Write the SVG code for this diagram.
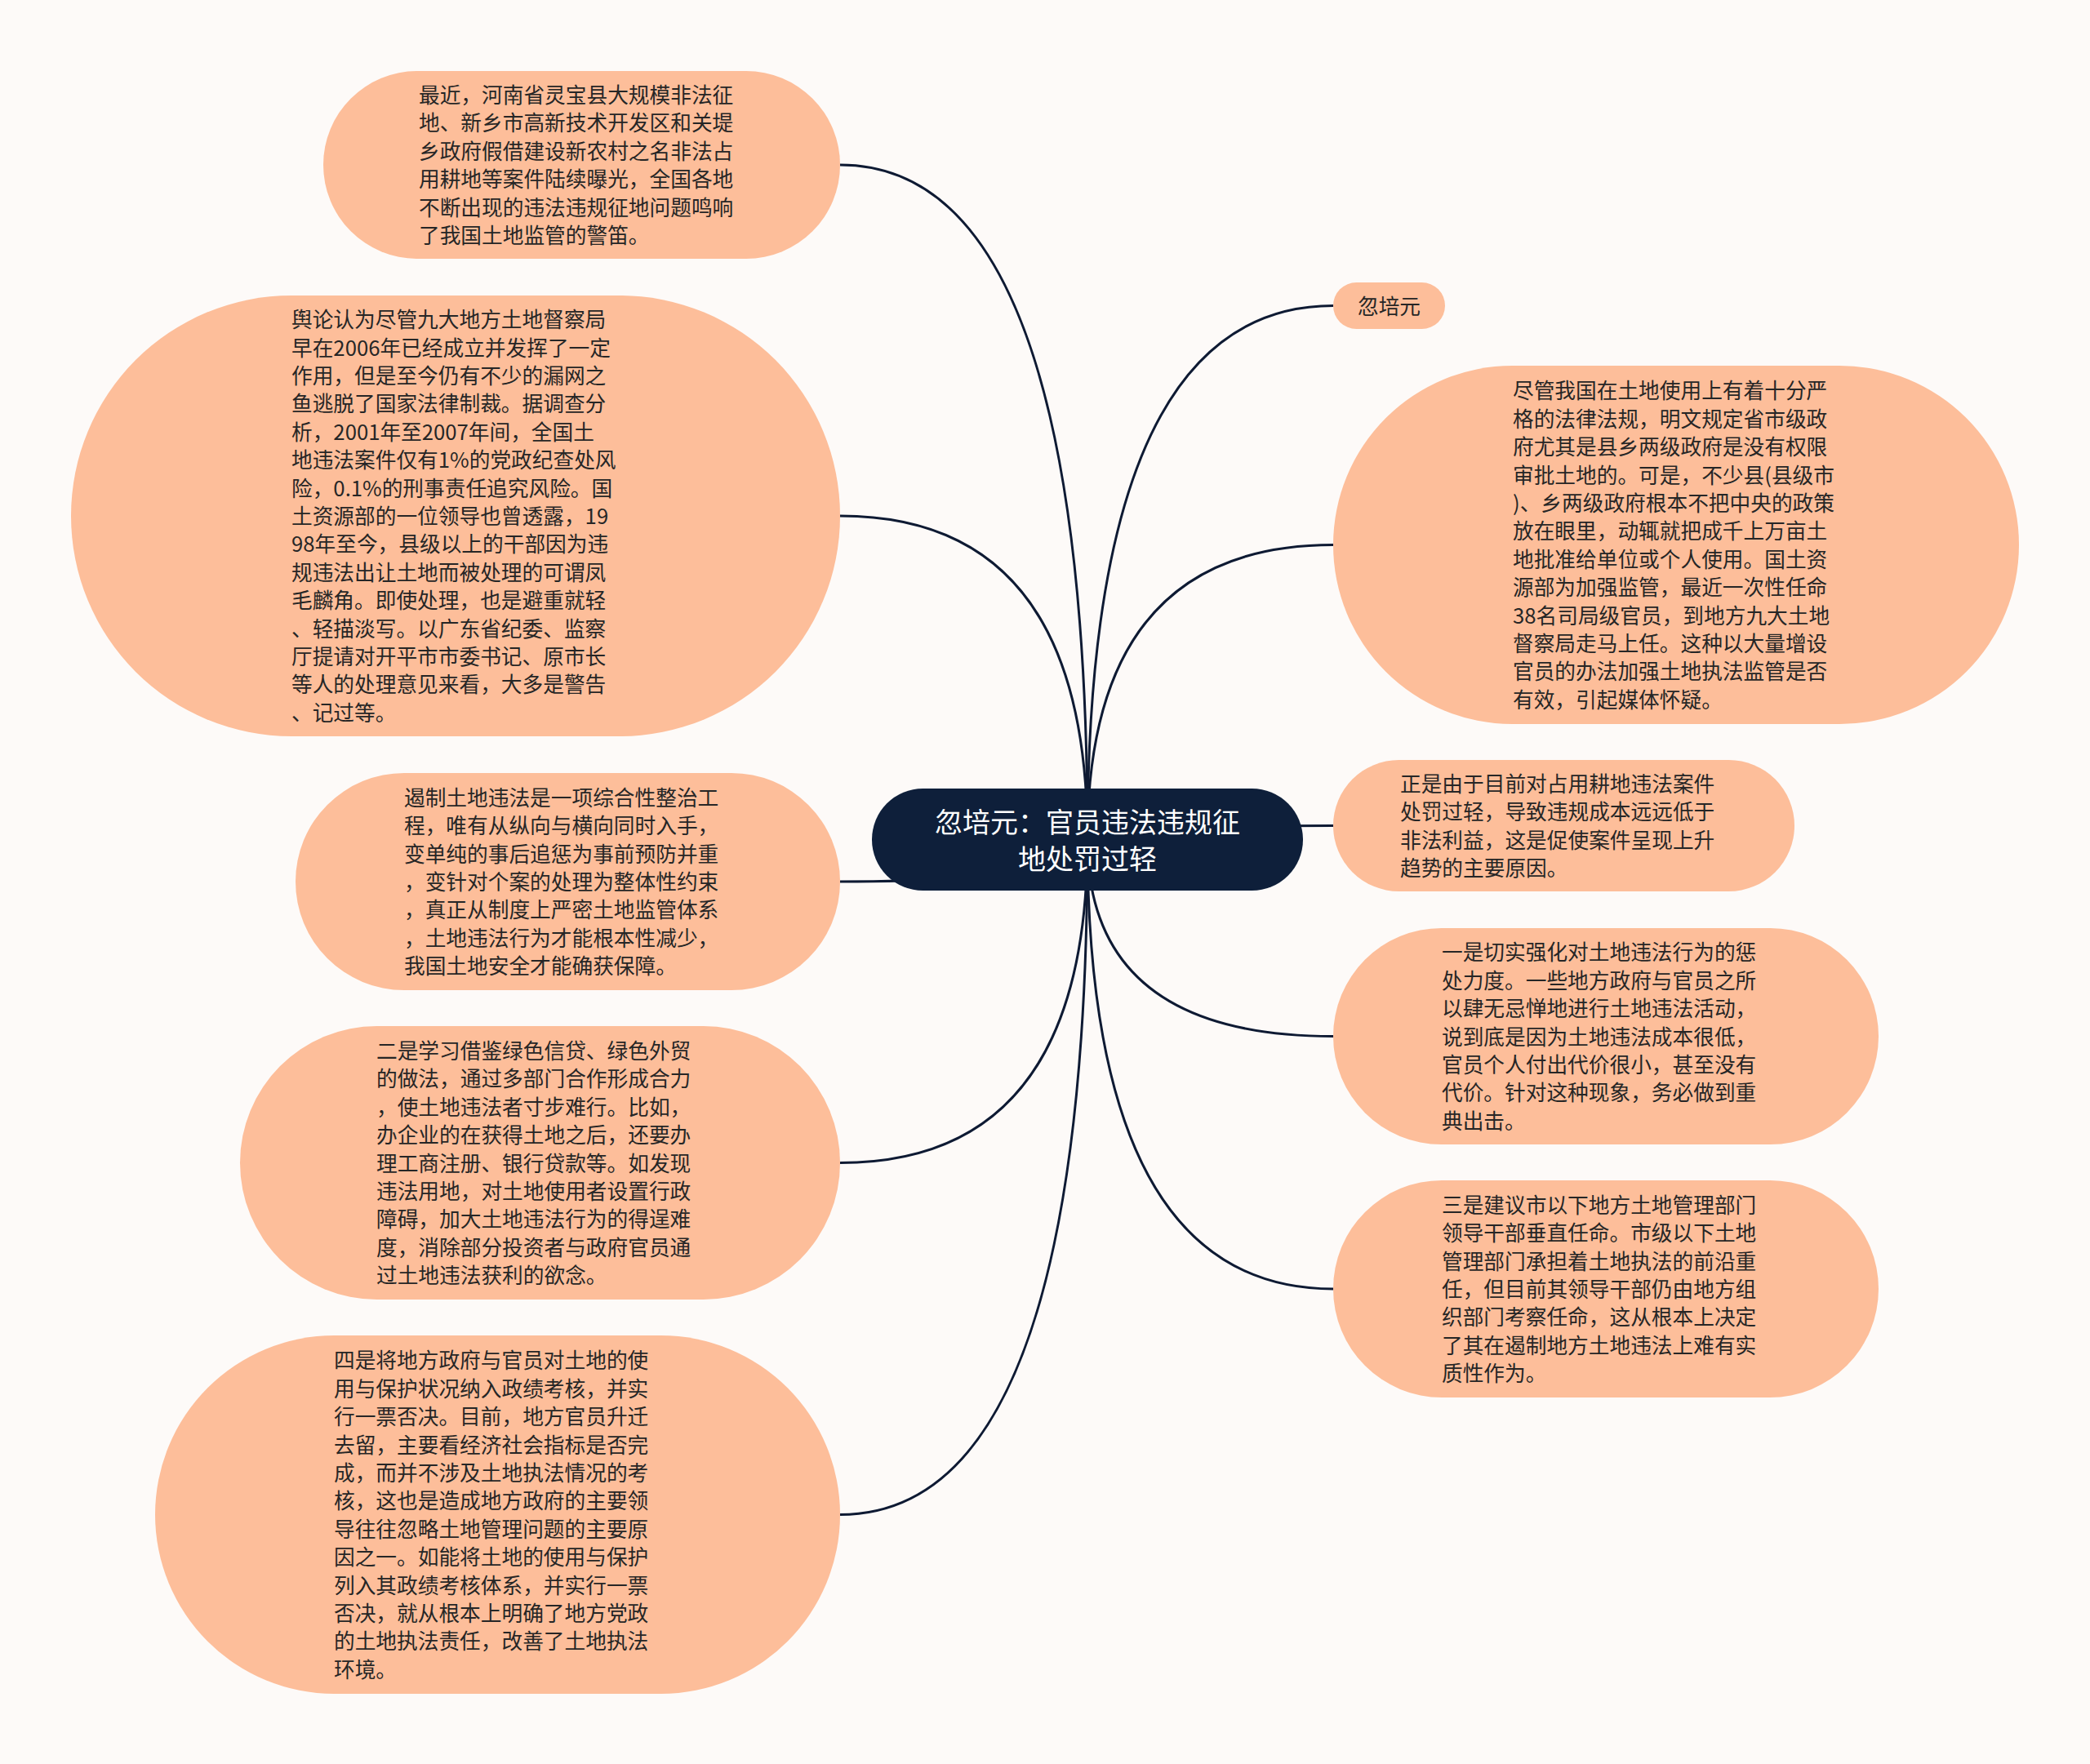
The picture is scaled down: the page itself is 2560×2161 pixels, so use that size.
<svg xmlns="http://www.w3.org/2000/svg" width="2560" height="2161" viewBox="0 0 2560 2161">
<style>
.node{fill:#fdbe9a}
.root{fill:#0e1f3a}
.t{font-family:"Noto Sans CJK SC","Noto Sans",sans-serif;font-size:25.7px;fill:#262626}
.rt{font-family:"Noto Sans CJK SC","Noto Sans",sans-serif;font-size:34px;fill:#ffffff;text-anchor:middle}
.link{fill:none;stroke:#0e1a33;stroke-width:3}
</style>
<rect width="2560" height="2161" fill="#fdfaf8"/>
<g id="connectors">
<path class="link" d="M1332 1028.5 Q1332 202 1029 202"/>
<path class="link" d="M1332 1028.5 Q1332 632 1029 632"/>
<path class="link" d="M1332 1028.5 Q1332 1080 1029 1080"/>
<path class="link" d="M1332 1028.5 Q1332 1424.5 1029 1424.5"/>
<path class="link" d="M1332 1028.5 Q1332 1855.5 1029 1855.5"/>
<path class="link" d="M1332 1028.5 Q1332 374.5 1633 374.5"/>
<path class="link" d="M1332 1028.5 Q1332 667.5 1633 667.5"/>
<path class="link" d="M1332 1028.5 Q1332 1011.5 1633 1011.5"/>
<path class="link" d="M1332 1028.5 Q1332 1269.5 1633 1269.5"/>
<path class="link" d="M1332 1028.5 Q1332 1579 1633 1579"/>
</g>
<g id="root">
<rect class="root" x="1068" y="966" width="528" height="125" rx="62.5"/>
<text class="rt"><tspan x="1332" y="1020">忽培元：官员违法违规征</tspan><tspan x="1332" y="1065">地处罚过轻</tspan></text>
</g>
<g id="n1">
<rect class="node" x="396" y="87" width="633" height="230" rx="115"/>
<text class="t"><tspan x="513" y="126">最近，河南省灵宝县大规模非法征</tspan><tspan x="513" y="160.4">地、新乡市高新技术开发区和关堤</tspan><tspan x="513" y="194.8">乡政府假借建设新农村之名非法占</tspan><tspan x="513" y="229.2">用耕地等案件陆续曝光，全国各地</tspan><tspan x="513" y="263.6">不断出现的违法违规征地问题鸣响</tspan><tspan x="513" y="298">了我国土地监管的警笛。</tspan></text>
</g>
<g id="n2">
<rect class="node" x="87" y="362" width="942" height="540" rx="270"/>
<text class="t"><tspan x="357" y="401.2">舆论认为尽管九大地方土地督察局</tspan><tspan x="357" y="435.6">早在2006年已经成立并发挥了一定</tspan><tspan x="357" y="470">作用，但是至今仍有不少的漏网之</tspan><tspan x="357" y="504.4">鱼逃脱了国家法律制裁。据调查分</tspan><tspan x="357" y="538.8">析，2001年至2007年间，全国土</tspan><tspan x="357" y="573.2">地违法案件仅有1%的党政纪查处风</tspan><tspan x="357" y="607.6">险，0.1%的刑事责任追究风险。国</tspan><tspan x="357" y="642">土资源部的一位领导也曾透露，19</tspan><tspan x="357" y="676.4">98年至今，县级以上的干部因为违</tspan><tspan x="357" y="710.8">规违法出让土地而被处理的可谓凤</tspan><tspan x="357" y="745.2">毛麟角。即使处理，也是避重就轻</tspan><tspan x="357" y="779.6">、轻描淡写。以广东省纪委、监察</tspan><tspan x="357" y="814">厅提请对开平市市委书记、原市长</tspan><tspan x="357" y="848.4">等人的处理意见来看，大多是警告</tspan><tspan x="357" y="882.8">、记过等。</tspan></text>
</g>
<g id="n3">
<rect class="node" x="362" y="947" width="667" height="266" rx="133"/>
<text class="t"><tspan x="495" y="986.8">遏制土地违法是一项综合性整治工</tspan><tspan x="495" y="1021.2">程，唯有从纵向与横向同时入手，</tspan><tspan x="495" y="1055.6">变单纯的事后追惩为事前预防并重</tspan><tspan x="495" y="1090">，变针对个案的处理为整体性约束</tspan><tspan x="495" y="1124.4">，真正从制度上严密土地监管体系</tspan><tspan x="495" y="1158.8">，土地违法行为才能根本性减少，</tspan><tspan x="495" y="1193.2">我国土地安全才能确获保障。</tspan></text>
</g>
<g id="n4">
<rect class="node" x="294" y="1257" width="735" height="335" rx="167.5"/>
<text class="t"><tspan x="461" y="1296.9">二是学习借鉴绿色信贷、绿色外贸</tspan><tspan x="461" y="1331.3">的做法，通过多部门合作形成合力</tspan><tspan x="461" y="1365.7">，使土地违法者寸步难行。比如，</tspan><tspan x="461" y="1400.1">办企业的在获得土地之后，还要办</tspan><tspan x="461" y="1434.5">理工商注册、银行贷款等。如发现</tspan><tspan x="461" y="1468.9">违法用地，对土地使用者设置行政</tspan><tspan x="461" y="1503.3">障碍，加大土地违法行为的得逞难</tspan><tspan x="461" y="1537.7">度，消除部分投资者与政府官员通</tspan><tspan x="461" y="1572.1">过土地违法获利的欲念。</tspan></text>
</g>
<g id="n5">
<rect class="node" x="190" y="1636" width="839" height="439" rx="219.5"/>
<text class="t"><tspan x="409" y="1676.3">四是将地方政府与官员对土地的使</tspan><tspan x="409" y="1710.7">用与保护状况纳入政绩考核，并实</tspan><tspan x="409" y="1745.1">行一票否决。目前，地方官员升迁</tspan><tspan x="409" y="1779.5">去留，主要看经济社会指标是否完</tspan><tspan x="409" y="1813.9">成，而并不涉及土地执法情况的考</tspan><tspan x="409" y="1848.3">核，这也是造成地方政府的主要领</tspan><tspan x="409" y="1882.7">导往往忽略土地管理问题的主要原</tspan><tspan x="409" y="1917.1">因之一。如能将土地的使用与保护</tspan><tspan x="409" y="1951.5">列入其政绩考核体系，并实行一票</tspan><tspan x="409" y="1985.9">否决，就从根本上明确了地方党政</tspan><tspan x="409" y="2020.3">的土地执法责任，改善了土地执法</tspan><tspan x="409" y="2054.7">环境。</tspan></text>
</g>
<g id="r0">
<rect class="node" x="1633" y="346" width="137" height="57" rx="28.5"/>
<text class="t" x="1701.5" y="384.5" text-anchor="middle">忽培元</text>
</g>
<g id="r1">
<rect class="node" x="1633" y="448" width="840" height="439" rx="219.5"/>
<text class="t"><tspan x="1853" y="488.3">尽管我国在土地使用上有着十分严</tspan><tspan x="1853" y="522.7">格的法律法规，明文规定省市级政</tspan><tspan x="1853" y="557.1">府尤其是县乡两级政府是没有权限</tspan><tspan x="1853" y="591.5">审批土地的。可是，不少县(县级市</tspan><tspan x="1853" y="625.9">)、乡两级政府根本不把中央的政策</tspan><tspan x="1853" y="660.3">放在眼里，动辄就把成千上万亩土</tspan><tspan x="1853" y="694.7">地批准给单位或个人使用。国土资</tspan><tspan x="1853" y="729.1">源部为加强监管，最近一次性任命</tspan><tspan x="1853" y="763.5">38名司局级官员，到地方九大土地</tspan><tspan x="1853" y="797.9">督察局走马上任。这种以大量增设</tspan><tspan x="1853" y="832.3">官员的办法加强土地执法监管是否</tspan><tspan x="1853" y="866.7">有效，引起媒体怀疑。</tspan></text>
</g>
<g id="r2">
<rect class="node" x="1633" y="931" width="565" height="161" rx="80.5"/>
<text class="t"><tspan x="1715" y="969.9">正是由于目前对占用耕地违法案件</tspan><tspan x="1715" y="1004.3">处罚过轻，导致违规成本远远低于</tspan><tspan x="1715" y="1038.7">非法利益，这是促使案件呈现上升</tspan><tspan x="1715" y="1073.1">趋势的主要原因。</tspan></text>
</g>
<g id="r3">
<rect class="node" x="1633" y="1137" width="668" height="265" rx="132.5"/>
<text class="t"><tspan x="1766" y="1176.3">一是切实强化对土地违法行为的惩</tspan><tspan x="1766" y="1210.7">处力度。一些地方政府与官员之所</tspan><tspan x="1766" y="1245.1">以肆无忌惮地进行土地违法活动，</tspan><tspan x="1766" y="1279.5">说到底是因为土地违法成本很低，</tspan><tspan x="1766" y="1313.9">官员个人付出代价很小，甚至没有</tspan><tspan x="1766" y="1348.3">代价。针对这种现象，务必做到重</tspan><tspan x="1766" y="1382.7">典出击。</tspan></text>
</g>
<g id="r4">
<rect class="node" x="1633" y="1446" width="668" height="266" rx="133"/>
<text class="t"><tspan x="1766" y="1485.8">三是建议市以下地方土地管理部门</tspan><tspan x="1766" y="1520.2">领导干部垂直任命。市级以下土地</tspan><tspan x="1766" y="1554.6">管理部门承担着土地执法的前沿重</tspan><tspan x="1766" y="1589">任，但目前其领导干部仍由地方组</tspan><tspan x="1766" y="1623.4">织部门考察任命，这从根本上决定</tspan><tspan x="1766" y="1657.8">了其在遏制地方土地违法上难有实</tspan><tspan x="1766" y="1692.2">质性作为。</tspan></text>
</g>
</svg>
